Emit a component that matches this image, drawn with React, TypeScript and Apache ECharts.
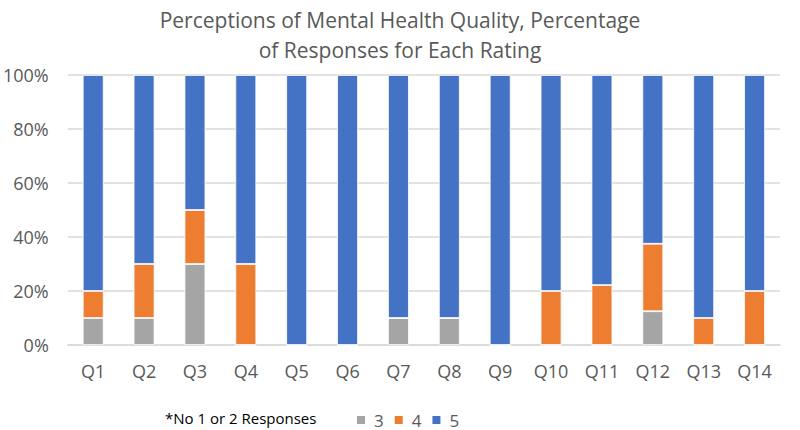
import React, { useEffect, useRef } from "react";
import * as echarts from "echarts";

const categories = ["Q1","Q2","Q3","Q4","Q5","Q6","Q7","Q8","Q9","Q10","Q11","Q12","Q13","Q14"];
const rating3 = [10, 10, 30, 0, 0, 0, 10, 10, 0, 0, 0, 12.5, 0, 0];
const rating4 = [10, 20, 20, 30, 0, 0, 0, 0, 0, 20, 22.2, 25, 10, 20];
const rating5 = [80, 70, 50, 70, 100, 100, 90, 90, 100, 80, 77.8, 62.5, 90, 80];
const yTicks = [0, 20, 40, 60, 80, 100];

const FONT = "'Open Sans', 'Noto Sans', sans-serif";
const TXT = "#595959";

export default function App() {
  const ref = useRef<HTMLDivElement>(null);
  useEffect(() => {
    const chart = echarts.init(ref.current!, null, { renderer: "svg" });
    const mk = (name: string, data: number[], color: string) => ({
      name,
      type: "bar",
      stack: "total",
      data,
      barWidth: "41%",
      itemStyle: { color, borderColor: "#ffffff", borderWidth: 0.8 },
    });
    chart.setOption({
      animation: false,
      backgroundColor: "#ffffff",
      title: {
        text: "Perceptions of Mental Health Quality, Percentage\nof Responses for Each Rating",
        left: "center",
        top: 0,
        textStyle: { fontFamily: FONT, fontSize: 21, fontWeight: "normal", color: TXT, lineHeight: 30 },
      },
      grid: { left: 66, right: 20, top: 75, bottom: 85 },
      xAxis: {
        type: "category",
        data: categories,
        axisTick: { show: false },
        axisLine: { lineStyle: { color: "#d9d9d9", width: 1.5 } },
        axisLabel: { color: TXT, fontFamily: FONT, fontSize: 18, margin: 17 },
      },
      yAxis: {
        type: "value",
        min: yTicks[0],
        max: yTicks[yTicks.length - 1],
        interval: 20,
        axisLine: { show: false },
        axisTick: { show: false },
        splitLine: { lineStyle: { color: "#d9d9d9", width: 1.5 } },
        axisLabel: { color: TXT, fontFamily: FONT, fontSize: 18, margin: 19, formatter: "{value}%" },
      },
      legend: {
        data: ["3", "4", "5"],
        left: 355,
        top: 411,
        padding: 0,
        itemWidth: 10,
        itemHeight: 10,
        itemGap: 9,
        icon: "rect",
        textStyle: { color: TXT, fontFamily: FONT, fontSize: 17, lineHeight: 18, padding: [0, 0, 0, 3] },
      },
      graphic: [
        {
          type: "text",
          left: 165,
          top: 410,
          style: { text: "*No 1 or 2 Responses", fill: "#000000", font: `15px ${FONT}` },
        },
      ],
      series: [
        mk("3", rating3, "#a5a5a5"),
        mk("4", rating4, "#ed7d31"),
        mk("5", rating5, "#4472c4"),
      ],
    });
    return () => chart.dispose();
  }, []);
  return <div ref={ref} style={{ position: "absolute", left: 0, top: 0, width: 800, height: 430 }} />;
}
